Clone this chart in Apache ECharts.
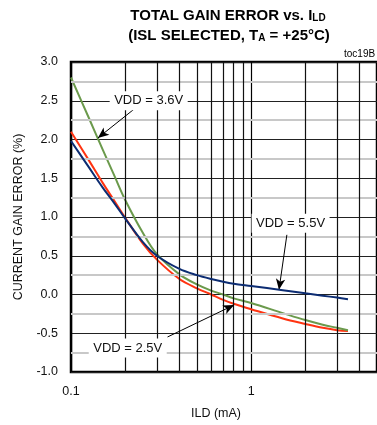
<!DOCTYPE html>
<html>
<head>
<meta charset="utf-8">
<script src="https://cdn.jsdelivr.net/npm/echarts@6/dist/echarts.min.js"></script>
<style>
  html, body { margin: 0; padding: 0; background: #fff; }
  #chart { width: 377px; height: 425px; }
</style>
</head>
<body>
<div id="chart"></div>
<script>
// ILD (mA) sample points
var ild = [0.1, 0.125, 0.15, 0.175, 0.2, 0.25, 0.3, 0.4, 0.5, 0.6, 0.7, 0.8, 1, 1.5, 2, 2.5, 3, 3.45];
// gain error (%)
var vdd25 = [2.10, 1.74, 1.44, 1.20, 0.99, 0.66, 0.45, 0.20, 0.08, 0.00, -0.07, -0.12, -0.19, -0.31, -0.38, -0.43, -0.46, -0.47];
var vdd36 = [2.80, 2.29, 1.87, 1.52, 1.22, 0.80, 0.52, 0.26, 0.13, 0.05, 0.00, -0.05, -0.11, -0.24, -0.33, -0.39, -0.43, -0.46];
var vdd55 = [1.98, 1.65, 1.38, 1.17, 0.98, 0.68, 0.50, 0.33, 0.25, 0.20, 0.165, 0.14, 0.11, 0.055, 0.015, -0.015, -0.04, -0.06];
// grid lines that are not on the axis ticks
var minorX = [0.2, 0.3, 0.4, 0.5, 0.6, 0.7, 0.8, 0.9, 2, 3, 4];
var minorY = [-0.75, -0.25, 0.25, 0.75, 1.25, 1.75, 2.25, 2.75];

function pairs(ys) {
  return ild.map(function (x, i) { return [x, ys[i]]; });
}

var FONT = "'Liberation Sans', Arial, sans-serif";
var myChart = echarts.init(document.getElementById('chart'));

function arrow(from, to) {
  return [{ coord: from, symbol: 'none' }, { coord: to, symbol: 'arrow', symbolSize: [7, 11] }];
}
function tag(text, at) {
  return {
    coord: at, symbol: 'rect', symbolSize: [78, 19],
    itemStyle: { color: '#fff' },
    label: { show: true, position: 'inside', formatter: text, color: '#111', fontSize: 13, fontFamily: FONT }
  };
}
var titleRich = {
  a: { fontSize: 15, fontWeight: 'bold', fontFamily: FONT, fill: '#000', lineHeight: 17 },
  s: { fontSize: 10, fontWeight: 'bold', fontFamily: FONT, fill: '#000', lineHeight: 17, padding: [6, 0, 0, 0] }
};
function curve(name, ys, color, z) {
  return {
    name: name, type: 'line', data: pairs(ys), smooth: 0.35,
    showSymbol: false, z: z, lineStyle: { color: color, width: 2 }
  };
}

var option = {
  animation: false,
  backgroundColor: '#fff',
  graphic: [
    { type: 'text', x: 228, y: 7, style: { text: '{a|TOTAL GAIN ERROR vs. I}{s|LD}', align: 'center', rich: titleRich } },
    { type: 'text', x: 229, y: 27, style: { text: '{a|(ISL SELECTED, T}{s|A}{a| = +25°C)}', align: 'center', rich: titleRich } },
    { type: 'text', x: 344, y: 49, style: { text: 'toc19B', fontSize: 10, fontFamily: FONT, fill: '#000' } }
  ],
  grid: {
    left: 71, top: 62, bottom: 53, width: 308,
    show: true, borderColor: '#000', borderWidth: 2.5, backgroundColor: 'transparent'
  },
  xAxis: {
    type: 'log', logBase: 10, min: 0.1, max: 5,
    name: 'ILD (mA)', nameLocation: 'middle', nameGap: 35,
    nameTextStyle: { fontSize: 12.5, fontFamily: FONT, color: '#111', padding: [0, 16, 0, 0] },
    axisLine: { show: false },
    axisTick: { show: false },
    axisLabel: {
      margin: 13, fontSize: 12.5, fontFamily: FONT, color: '#111', showMaxLabel: false,
      formatter: function (v) { return String(+v.toPrecision(3)); }
    },
    splitLine: { show: true, lineStyle: { color: '#000', width: 1.2 } }
  },
  yAxis: {
    type: 'value', min: -1, max: 3, interval: 0.5,
    name: 'CURRENT GAIN ERROR (%)', nameLocation: 'middle', nameGap: 46,
    nameTextStyle: { fontSize: 12.5, fontFamily: FONT, color: '#111' },
    axisLine: { show: false },
    axisTick: { show: false },
    axisLabel: {
      margin: 13, fontSize: 12.5, fontFamily: FONT, color: '#111',
      formatter: function (v) { return v.toFixed(1); }
    },
    splitLine: { show: true, lineStyle: { color: '#222', width: 1.2 } }
  },
  series: [
    {
      // light horizontal grid
      type: 'line', data: [], z: 0, silent: true,
      markLine: {
        silent: true, symbol: 'none', animation: false,
        label: { show: false },
        lineStyle: { color: '#c8c8c8', width: 2, type: 'solid' },
        data: minorY.map(function (y) { return { yAxis: y }; })
      }
    },
    {
      // vertical grid
      type: 'line', data: [], z: 1, silent: true,
      markLine: {
        silent: true, symbol: 'none', animation: false,
        label: { show: false },
        lineStyle: { color: '#111', width: 1.2, type: 'solid' },
        data: minorX.map(function (x) { return { xAxis: x }; })
      }
    },
    curve('VDD = 2.5V', vdd25, '#ff3311', 3),
    curve('VDD = 3.6V', vdd36, '#6b9a4c', 4),
    curve('VDD = 5.5V', vdd55, '#0c2c72', 5),
    {
      // annotations
      type: 'line', data: [], z: 6, silent: true,
      markPoint: {
        silent: true, animation: false,
        data: [
          tag('VDD = 3.6V', [0.27, 2.5]),
          tag('VDD = 5.5V', [1.656, 0.92]),
          tag('VDD = 2.5V', [0.2065, -0.69])
        ]
      },
      markLine: {
        silent: true, animation: false,
        label: { show: false },
        lineStyle: { color: '#000', width: 1, type: 'solid' },
        data: [
          arrow([0.232, 2.42], [0.141, 2.02]),
          arrow([1.58, 0.77], [1.428, 0.06]),
          arrow([0.3435, -0.548], [0.805, -0.135])
        ]
      }
    }
  ]
};

myChart.setOption(option);
</script>
</body>
</html>
